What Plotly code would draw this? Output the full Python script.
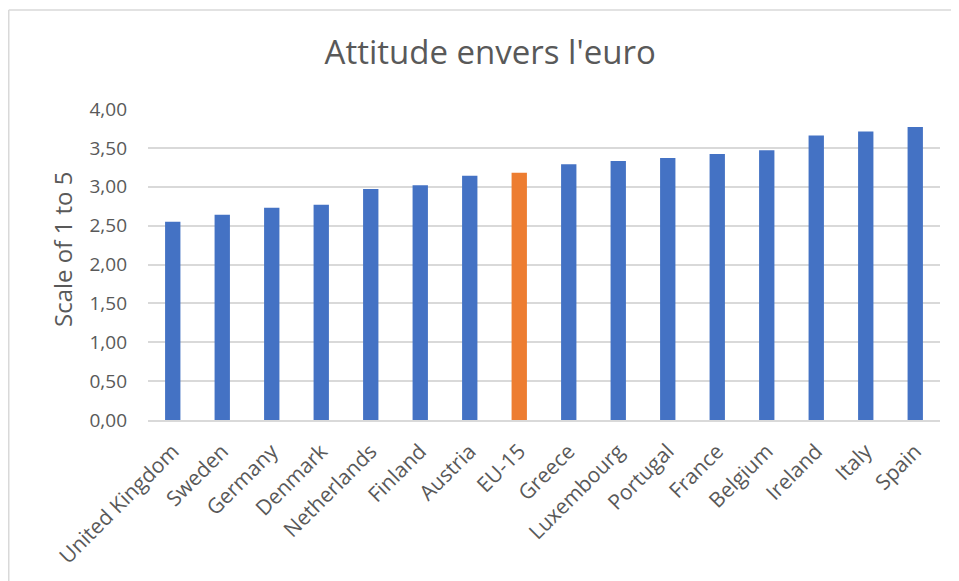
import plotly.graph_objects as go

countries = ["United Kingdom", "Sweden", "Germany", "Denmark", "Netherlands", "Finland",
             "Austria", "EU-15", "Greece", "Luxembourg", "Portugal", "France", "Belgium",
             "Ireland", "Italy", "Spain"]
values = [2.55, 2.64, 2.73, 2.77, 2.97, 3.02, 3.14, 3.18, 3.29, 3.33, 3.37, 3.42, 3.47,
          3.66, 3.71, 3.77]
highlight = "EU-15"
tick_vals = [0, 0.5, 1, 1.5, 2, 2.5, 3, 3.5, 4]

colors = ["#ED7D31" if c == highlight else "#4472C4" for c in countries]

# page body has an 8px margin; size the figure to fill the rest of the window
W, H = 951, 573
L, R, T, B = 140, 19, 101, 161
pw, ph = W - L - R, H - T - B

fig = go.Figure(go.Bar(x=countries, y=values, marker=dict(color=colors, line=dict(width=0))))

def px(x):
    return (x - L) / pw

def py(y):
    return (H - B - y) / ph

fig.update_layout(
    width=W, height=H,
    margin=dict(l=L, r=R, t=T, b=B),
    paper_bgcolor="white", plot_bgcolor="white",
    separators=", ",
    bargap=0.69,
    font=dict(family="Open Sans, sans-serif", color="#595959", size=19),
    title=dict(text="Attitude envers l'euro", x=0.507, xanchor="center", y=1 - 44 / H, yanchor="middle",
               font=dict(size=33, color="#595959")),
    showlegend=False,
    xaxis=dict(tickangle=-45, showgrid=False, showline=True, linecolor="#d9d9d9", linewidth=1.5,
               ticks="", tickfont=dict(size=21), ticklabelstandoff=9),
    yaxis=dict(range=[0, 4], tickvals=tick_vals, tickformat=".2f", showgrid=True,
               gridcolor="#d9d9d9", gridwidth=1.5, zeroline=False, showline=False, ticks="",
               ticklabelstandoff=20, tickfont=dict(size=19)),
    annotations=[dict(text="Scale of 1 to 5", textangle=-90, xref="paper", yref="paper",
                      x=px(54), y=py(242), xanchor="center", yanchor="middle", showarrow=False,
                      font=dict(size=24, color="#595959"))],
    shapes=[
        dict(type="line", xref="paper", yref="paper", x0=px(0.75), x1=px(W), y0=py(2), y1=py(2),
             line=dict(color="#d9d9d9", width=1.5)),
        dict(type="line", xref="paper", yref="paper", x0=px(0.75), x1=px(0.75), y0=py(2), y1=py(H),
             line=dict(color="#d9d9d9", width=1.5)),
    ],
)

fig.write_html("out.html")
